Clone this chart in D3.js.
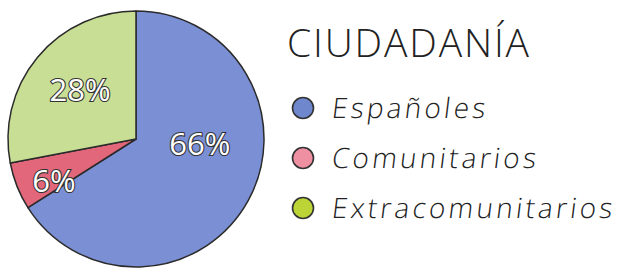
<!DOCTYPE html>
<html>
<head>
<meta charset="utf-8">
<script src="https://cdn.jsdelivr.net/npm/d3@7"></script>
<style>
  body { margin: 0; background: #fff; }
  svg { display: block; }
</style>
</head>
<body>
<svg id="chart" width="629" height="268"></svg>
<script>
var categories = ["Españoles", "Comunitarios", "Extracomunitarios"];
var values = [66, 6, 28];
var pieColors = ["#7b8fd4", "#e3677b", "#c9de95"];
var legendColors = ["#6f87cc", "#ef8fa2", "#bdd436"];
var title = "CIUDADANÍA";

var svg = d3.select("#chart");
var cx = 136, cy = 139, r = 128;

var pie = d3.pie().sort(null).value(function(d) { return d; });
var arcs = pie(values);
var arc = d3.arc().innerRadius(0).outerRadius(r);

var g = svg.append("g").attr("transform", "translate(" + cx + "," + cy + ")");

g.selectAll("path.slice")
  .data(arcs)
  .enter()
  .append("path")
  .attr("class", "slice")
  .attr("d", arc)
  .attr("fill", function(d, i) { return pieColors[i]; })
  .attr("stroke", "#2b2b2b")
  .attr("stroke-width", 1.5)
  .attr("stroke-linejoin", "round");

// where the hand placed each label (angle deg, radius fraction)
var labelAng = [94, 243, 311];
var labelR = [0.5, 0.72, 0.58];
g.selectAll("text.pct")
  .data(arcs)
  .enter()
  .append("text")
  .attr("class", "pct")
  .attr("transform", function(d, i) {
    var a = labelAng[i] * Math.PI / 180;
    var rr = r * labelR[i];
    return "translate(" + (Math.sin(a) * rr) + "," + (-Math.cos(a) * rr) + ")";
  })
  .attr("text-anchor", "middle")
  .attr("dy", "0.36em")
  .attr("font-family", "Open Sans, DejaVu Sans, sans-serif")
  .attr("font-size", 31)
  .attr("fill", "#fff")
  .attr("stroke", "#333")
  .attr("stroke-width", 2.2)
  .attr("paint-order", "stroke")
  .text(function(d) { return d.data + "%"; });

svg.append("text")
  .attr("x", 287)
  .attr("y", 57)
  .attr("font-family", "Open Sans, sans-serif")
  .attr("font-weight", 300)
  .attr("font-size", 39)
  .attr("fill", "#222")
  .attr("textLength", 242)
  .text(title);

var leg = svg.selectAll("g.leg")
  .data(categories)
  .enter()
  .append("g")
  .attr("class", "leg")
  .attr("transform", function(d, i) { return "translate(303," + (108 + i * 50) + ")"; });

leg.append("circle")
  .attr("r", 10.5)
  .attr("fill", function(d, i) { return legendColors[i]; })
  .attr("stroke", "#333")
  .attr("stroke-width", 1.6);

leg.append("text")
  .attr("transform", "translate(28,10) skewX(-7)")
  .attr("font-family", "Open Sans, sans-serif")
  .attr("font-weight", 300)
  .attr("font-size", 28)
  .attr("letter-spacing", 3.2)
  .attr("fill", "#222")
  .text(function(d) { return d; });
</script>
</body>
</html>
